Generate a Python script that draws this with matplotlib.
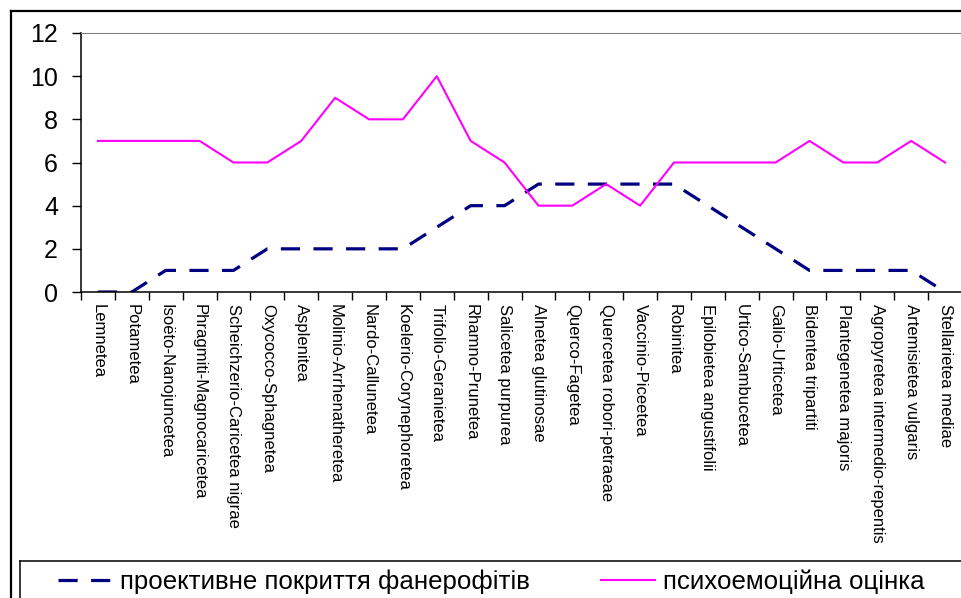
import matplotlib
matplotlib.use('Agg')
import matplotlib.pyplot as plt
import numpy as np

plt.rcParams['font.family'] = ['Liberation Sans', 'DejaVu Sans']

# syntaxonomic classes
classes = ['Lemnetea', 'Potametea', 'Isoëto-Nanojuncetea', 'Phragmiti-Magnocaricetea',
           'Scheichzerio-Caricetea nigrae', 'Oxycocco-Sphagnetea', 'Asplenitea',
           'Molinio-Arrhenatheretea', 'Nardo-Callunetea', 'Koelerio-Corynephoretea',
           'Trifolio-Geranietea', 'Rhamno-Prunetea', 'Salicetea purpurea',
           'Alnetea glutinosae', 'Querco-Fagetea', 'Quercetea robori-petraeae',
           'Vaccinio-Piceetea', 'Robinitea', 'Epilobietea angustifolii',
           'Urtico-Sambucetea', 'Galio-Urticetea', 'Bidentea tripartiti',
           'Plantegenetea majoris', 'Agropyretea intermedio-repentis',
           'Artemisietea vulgaris', 'Stellarietea mediae']

cover = [0, 0, 1, 1, 1, 2, 2, 2, 2, 2, 3, 4, 4, 5, 5, 5, 5, 5, 4, 3, 2, 1, 1, 1, 1, 0]
psycho = [7, 7, 7, 7, 6, 6, 7, 9, 8, 8, 10, 7, 6, 4, 4, 5, 4, 6, 6, 6, 6, 7, 6, 6, 7, 6]

label_cover = 'проективне покриття фанерофітів'
label_psycho = 'психоемоційна оцінка'
yticks = [0, 2, 4, 6, 8, 10, 12]

W, H = 961, 598
fig = plt.figure(figsize=(W / 100, H / 100), dpi=100)
ax = fig.add_axes([81 / W, 1 - 292 / H, (962 - 81) / W, (292 - 33) / H])

x = np.arange(len(classes))
ax.plot(x, cover, color='#000080', lw=2.3, dashes=(6.0, 4.2),
        dash_capstyle='butt', label=label_cover)
ax.plot(x, psycho, color='#FF00FF', lw=1.5, label=label_psycho)

ax.set_xlim(-0.5, len(classes) - 0.5)
ax.set_ylim(0, 12)
ax.set_yticks(yticks)
ax.tick_params(axis='y', length=6.5, width=1, pad=10, labelsize=18, direction='out')

ax.set_xticks(x)
ax.set_xticklabels(classes, rotation=270, fontsize=12, ha='center', va='top')
ax.set_xticks(np.arange(len(classes) + 1) - 0.5, minor=True)
ax.tick_params(axis='x', which='major', length=0, pad=9)
ax.tick_params(axis='x', which='minor', length=5.5, width=1, direction='out')

ax.spines['top'].set_color('#808080')
ax.spines['right'].set_visible(False)
for s in ['left', 'bottom']:
    ax.spines[s].set_linewidth(1.1)

# outer frame of the chart area and legend frame
fig.add_artist(plt.Line2D([11 / W, 1.0], [1 - 11 / H, 1 - 11 / H], color='black', lw=1.6))
fig.add_artist(plt.Line2D([11 / W, 11 / W], [0, 1 - 11 / H], color='black', lw=1.6))
fig.add_artist(plt.Line2D([20 / W, 1.0], [1 - 561 / H, 1 - 561 / H], color='black', lw=1.1))
fig.add_artist(plt.Line2D([20 / W, 20 / W], [0, 1 - 561 / H], color='black', lw=1.1))

fig.legend(loc='center left', bbox_to_anchor=(58 / W, 1 - 582 / H), ncol=2,
           frameon=False, fontsize=18.6, handlelength=2.1, handletextpad=0.3,
           columnspacing=2.75, borderpad=0, borderaxespad=0)

fig.savefig('out.png', dpi=100)
